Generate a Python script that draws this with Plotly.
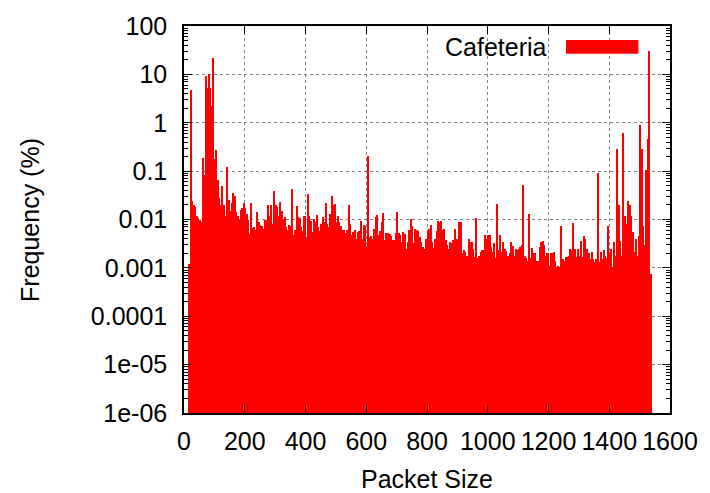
import plotly.graph_objects as go

# Packet-size histogram, 5-byte bins starting at 0 (frequency in %)
BIN = 5
freq_0_315 = [None, None, None, 0.0012, 4.7, 0.024, 0.02, 0.018, 0.012, 0.011,
              0.01, 0.009, 0.19, 0.085, 9.3, 5.3, 10, 5.3, 2.2, 21.9,
              0.18, 0.27, 0.066, 0.028, 0.02, 0.05, 0.02, 0.012, 0.12, 0.025,
              0.015, 0.022, 0.035, 0.03, 0.014, 0.012, 0.01, 0.016, 0.017, 0.022,
              0.017, 0.013, 0.01, 0.005, 0.022, 0.0068, 0.007, 0.006, 0.014, 0.009,
              0.0077, 0.0074, 0.0063, 0.0097, 0.0097, 0.0195, 0.012, 0.02, 0.008, 0.039,
              0.02, 0.018, 0.012]
freq_315_640 = [0.0225, 0.0152, 0.0103, 0.0111, 0.0069, 0.0062, 0.0077, 0.0075, 0.042, 0.0047,
                0.006, 0.0192, 0.0111, 0.0105, 0.0069, 0.0057, 0.012, 0.0043, 0.033, 0.012,
                0.0095, 0.0055, 0.0103, 0.009, 0.0124, 0.0069, 0.0059, 0.0081, 0.0111, 0.0088,
                0.0218, 0.0081, 0.0069, 0.013, 0.031, 0.02, 0.0208, 0.0088, 0.0116, 0.0088,
                0.0075, 0.0062, 0.0062, 0.0053, 0.0062, 0.0199, 0.0081, 0.0047, 0.0055, 0.0062,
                0.004, 0.0055, 0.0059, 0.0095, 0.004, 0.0077, 0.0075, 0.0029, 0.21, 0.0043,
                0.0045, 0.004, 0.0064, 0.0111, 0.0124]
freq_640_965 = [0.0048, 0.0059, 0.0088, 0.0136, 0.0037, 0.0053, 0.0053, 0.005, 0.0045, 0.0037,
                0.0037, 0.0053, 0.0145, 0.0053, 0.0047, 0.0035, 0.0055, 0.0051, 0.0025, 0.0034,
                0.006, 0.0103, 0.0075, 0.0032, 0.0064, 0.0062, 0.0059, 0.0043, 0.0034, 0.0027,
                0.0025, 0.004, 0.0057, 0.0065, 0.0077, 0.0034, 0.0026, 0.004, 0.0059, 0.0095,
                0.0088, 0.0095, 0.0062, 0.0064, 0.0037, 0.003, 0.0025, 0.0034, 0.0032, 0.0037,
                0.0064, 0.004, 0.004, 0.0088, 0.0088, 0.002, 0.0023, 0.0021, 0.0018, 0.004,
                0.0034, 0.0034, 0.0025, 0.0017, 0.0106]
freq_965_1290 = [0.0016, 0.0018, 0.0021, 0.0023, 0.0023, 0.0047, 0.004, 0.0047, 0.0047, 0.0027,
                 0.0021, 0.0033, 0.0016, 0.0208, 0.0023, 0.0047, 0.0021, 0.0034, 0.0025, 0.0022,
                 0.0018, 0.002, 0.0034, 0.0029, 0.0018, 0.0025, 0.0023, 0.0025, 0.0027, 0.003,
                 0.051, 0.0018, 0.0016, 0.0014, 0.013, 0.0016, 0.0026, 0.002, 0.002, 0.0014,
                 0.0014, 0.0027, 0.0034, 0.0036, 0.003, 0.0018, 0.002, 0.0011, 0.002, 0.002,
                 0.0021, 0.0014, 0.00105, 0.0011, 0.00105, 0.0075, 0.0015, 0.0014, 0.0017, 0.0017,
                 0.0018, 0.0025, 0.0023, 0.0085, 0.0025]
freq_1290_1540 = [0.00166, 0.0025, 0.0018, 0.0036, 0.00166, 0.0046, 0.0039, 0.0025, 0.002, 0.00153,
                  0.0021, 0.00153, 0.0013, 0.00153, 0.09, 0.0013, 0.0021, 0.00153, 0.0023, 0.0018,
                  0.0016, 0.0073, 0.0021, 0.0025, 0.00103, 0.0034, 0.0018, 0.29, 0.0204, 0.0036,
                  0.0018, 0.6, 0.0118, 0.008, 0.0239, 0.0204, 0.0118, 0.0054, 0.0021, 0.0039,
                  0.0018, 0.0046, 0.88, 0.28, 0.0073, 0.003, 0.106, 0.47, 30, 0.00073]

freq = freq_0_315 + freq_315_640 + freq_640_965 + freq_965_1290 + freq_1290_1540
sizes = [i * BIN + BIN / 2 for i in range(len(freq))]

x_ticks = [0, 200, 400, 600, 800, 1000, 1200, 1400, 1600]
y_ticks = [1e-6, 1e-5, 1e-4, 1e-3, 1e-2, 1e-1, 1, 10, 100]
y_labels = ["1e-06", "1e-05", "0.0001", "0.001", "0.01", "0.1", "1", "10", "100"]
series_name = "Cafeteria"

FONT = "Liberation Sans, Arial, sans-serif"
FS = 25
RED = "#ff0000"

fig = go.Figure()
fig.add_trace(go.Bar(x=sizes, y=freq, width=BIN, marker=dict(color=RED, line=dict(width=0)),
                     name=series_name, showlegend=False))

axis_common = dict(showline=True, linecolor="black", linewidth=1.5, mirror="allticks",
                   ticks="inside", ticklen=8, tickcolor="black", tickwidth=1.2,
                   showgrid=True, gridcolor="#808080", griddash="dot", gridwidth=1,
                   zeroline=False, tickfont=dict(family=FONT, size=FS, color="black"))

fig.update_xaxes(range=[0, 1600], tickvals=x_ticks, ticktext=[str(v) for v in x_ticks],
                 ticklabelstandoff=5, **axis_common)
fig.update_yaxes(type="log", range=[-6, 2], tickvals=y_ticks, ticktext=y_labels,
                 ticklabelstandoff=10,
                 minor=dict(ticks="inside", ticklen=4, tickcolor="black", dtick="D1", showgrid=False),
                 **axis_common)

# legend (gnuplot style: label left of the sample), clearing the grid behind it
fig.add_shape(type="rect", xref="paper", yref="paper", x0=0.48, x1=0.997, y0=0.913, y1=0.997,
              fillcolor="white", line=dict(width=0), layer="between")
fig.add_shape(type="rect", xref="paper", yref="paper", x0=0.786, x1=0.935, y0=0.928, y1=0.964,
              fillcolor=RED, line=dict(width=0), layer="above")
fig.add_annotation(text=series_name, xref="paper", yref="paper", x=0.7515, y=0.946,
                   xanchor="right", yanchor="middle", showarrow=False,
                   font=dict(family=FONT, size=FS, color="black"))

fig.add_annotation(text="Frequency (%)", xref="paper", yref="paper", x=-0.318, y=0.5,
                   textangle=-90, xanchor="center", yanchor="middle", showarrow=False,
                   font=dict(family=FONT, size=FS, color="black"))
fig.add_annotation(text="Packet Size", xref="paper", yref="paper", x=0.5, y=-0.171,
                   xanchor="center", yanchor="middle", showarrow=False,
                   font=dict(family=FONT, size=FS, color="black"))

fig.update_layout(width=710, height=493, margin=dict(l=184, r=35, t=22, b=80),
                  paper_bgcolor="white", plot_bgcolor="white", bargap=0, showlegend=False)

fig.write_html("out.html")
